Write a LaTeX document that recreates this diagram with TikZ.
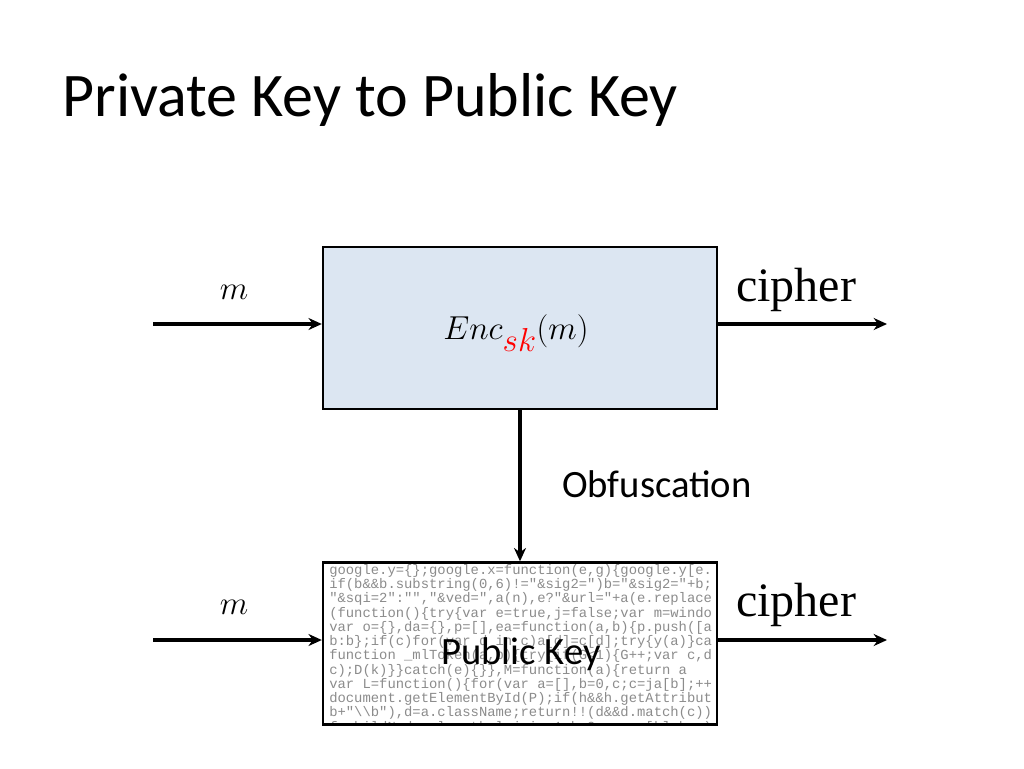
\documentclass[tikz,border=0pt]{standalone}
\usepackage{fontspec}
\setmainfont{Carlito}
\newfontfamily\serifcam{Liberation Serif}
\newfontfamily\codefont{Liberation Mono}
\usetikzlibrary{arrows.meta, positioning}
\definecolor{boxfill}{HTML}{DCE6F2}
\definecolor{codegrey}{HTML}{8C8C8C}
\begin{document}
\begin{tikzpicture}[x=0.75pt, y=-0.75pt, >={Stealth[length=10pt, width=9pt]},
  encbox/.style={draw, line width=1.8pt, minimum width=295.5pt, minimum height=121.5pt, inner sep=0pt},
  flow/.style={->, line width=2.4pt},
  lbl/.style={font=\fontsize{38}{40}\selectfont}]
  \useasboundingbox (0,0) rectangle (1024,768);
  \node[anchor=west, font=\fontsize{46.5}{50}\selectfont] (title) at (58,100) {Private Key to Public Key};
  % encryption box
  \node[encbox, fill=boxfill] (enc) at (520,328) {};
  \node[lbl] (encf) at (516,333) {$Enc_{\color{red}sk}(m)$};
  % obfuscated box
  \node[encbox, fill=white] (pk) at (520,643.5) {};
  \begin{scope}
    \clip (323,562) rectangle (717,725);
    \node[anchor=north west, align=left, text=codegrey, inner sep=0pt,
      font=\codefont\fontsize{10.4}{8.9}\selectfont] (code) at (329,564) {%
google.y=\{\};google.x=function(e,g)\{google.y[e.\\
if(b\&\&b.substring(0,6)!="\&sig2=")b="\&sig2="+b;\\
"\&sqi=2":"","\&ved=",a(n),e?"\&url="+a(e.replace\\
(function()\{try\{var e=true,j=false;var m=windo\\
var o=\{\},da=\{\},p=[],ea=function(a,b)\{p.push([a\\
b:b\};if(c)for(var d in c)a[d]=c[d];try\{y(a)\}ca\\
function \_mlToken(a,b)\{try\{if(G<1)\{G++;var c,d\\
c);D(k)\}\}catch(e)\{\}\},M=function(a)\{return a\\
var L=function()\{for(var a=[],b=0,c;c=ja[b];++\\
document.getElementById(P);if(h\&\&h.getAttribut\\
b+"\textbackslash\textbackslash b"),d=a.className;return!!(d\&\&d.match(c))\\
f.childNodes.length,l=j,i=-1,k=0,u;u=c[k];k++)\\
sa=function(a,b,c)\{ra(a,b,c)\},ta=function(a,b)};
  \end{scope}
  \node[encbox] (pkframe) at (520,643.5) {};
  \node[font=\fontsize{29}{32}\selectfont] (pklabel) at (521,654) {Public Key};
  % inputs and outputs
  \coordinate (inA) at (153,324);
  \coordinate (outA) at (887,324);
  \coordinate (inB) at (153,640);
  \coordinate (outB) at (887,640);
  \draw[flow] (inA) -- (inA -| enc.west);
  \draw[flow] (outA -| enc.east) -- (outA);
  \draw[flow] (inB) -- (inB -| pk.west);
  \draw[flow] (outB -| pk.east) -- (outB);
  \draw[flow] (enc.south) -- (pk.north);
  \node[lbl] (mA) at (234,292) {$m$};
  \node[lbl] (mB) at (234,607) {$m$};
  \node[font=\serifcam\fontsize{36}{38}\selectfont] (cA) at (796,290) {cipher};
  \node[font=\serifcam\fontsize{36}{38}\selectfont] (cB) at (796,605) {cipher};
  \node[font=\fontsize{29}{32}\selectfont] (obf) at (657,484) {Obfuscation};
\end{tikzpicture}
\end{document}
